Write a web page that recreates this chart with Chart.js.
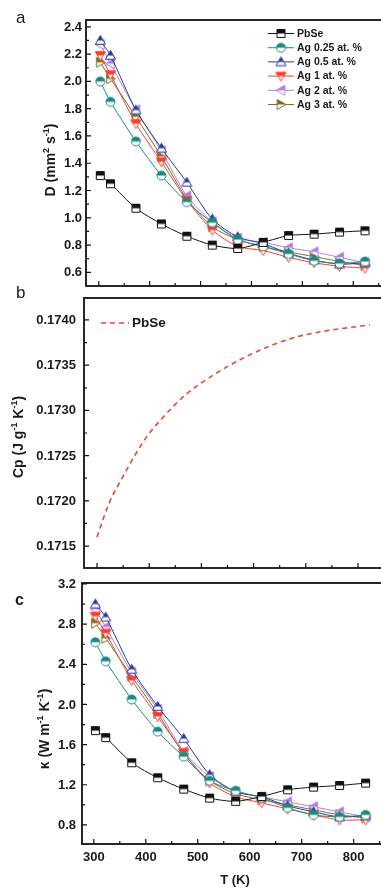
<!DOCTYPE html>
<html>
<head>
<meta charset="utf-8">
<script src="https://cdn.jsdelivr.net/npm/chart.js@4.4.1/dist/chart.umd.min.js"></script>
<style>
  html, body { margin: 0; padding: 0; background: #fff; overflow: hidden; }
  body { width: 381px; height: 888px; position: relative; }
  canvas { position: absolute; left: 0; }
</style>
</head>
<body>
<canvas id="chartA" width="400" height="310" style="top:0px"></canvas>
<canvas id="chartB" width="400" height="320" style="top:270px"></canvas>
<canvas id="chartC" width="400" height="333" style="top:555px"></canvas>
<script>
// temperatures (K)
const temps = [303, 323, 373, 423, 473, 523, 573, 623, 673, 723, 773, 823];
const seriesNames = ['PbSe', 'Ag 0.25 at. %', 'Ag 0.5 at. %', 'Ag 1 at. %', 'Ag 2 at. %', 'Ag 3 at. %'];

// (a) thermal diffusivity D (mm2/s)
const dPbSe = [1.31, 1.25, 1.07, 0.955, 0.865, 0.80, 0.775, 0.82, 0.87, 0.88, 0.895, 0.905];
const dAg025 = [2.00, 1.85, 1.56, 1.31, 1.115, 0.965, 0.84, 0.79, 0.735, 0.685, 0.665, 0.68];
const dAg05 = [2.30, 2.19, 1.79, 1.51, 1.26, 0.99, 0.86, 0.81, 0.74, 0.69, 0.66, 0.67];
const dAg1 = [2.19, 2.05, 1.69, 1.41, 1.13, 0.91, 0.79, 0.76, 0.71, 0.67, 0.645, 0.63];
const dAg2 = [2.27, 2.13, 1.79, 1.49, 1.16, 0.97, 0.85, 0.82, 0.78, 0.75, 0.71, 0.67];
const dAg3 = [2.14, 2.02, 1.74, 1.45, 1.14, 0.935, 0.84, 0.79, 0.75, 0.715, 0.68, 0.65];

// (b) heat capacity Cp of PbSe
const cpTemps = [300, 323, 348, 373, 398, 423, 448, 473, 523, 573, 623, 673, 723, 773, 823];
const cpPbSe = [0.17160, 0.171972, 0.172249, 0.172507, 0.17273, 0.17290, 0.173055, 0.173189,
                0.173391, 0.173557, 0.173693, 0.173797, 0.173864, 0.173908, 0.173945];

// (c) thermal conductivity kappa (W/m/K)
const kPbSe = [1.74, 1.67, 1.42, 1.27, 1.157, 1.067, 1.035, 1.083, 1.15, 1.177, 1.193, 1.217];
const kAg025 = [2.62, 2.43, 2.05, 1.73, 1.48, 1.24, 1.14, 1.07, 0.97, 0.90, 0.88, 0.90];
const kAg05 = [3.00, 2.87, 2.35, 1.98, 1.66, 1.30, 1.13, 1.08, 0.99, 0.93, 0.88, 0.89];
const kAg1 = [2.88, 2.71, 2.24, 1.88, 1.52, 1.22, 1.08, 1.02, 0.96, 0.90, 0.85, 0.85];
const kAg2 = [2.95, 2.77, 2.32, 1.95, 1.53, 1.28, 1.13, 1.08, 1.03, 0.98, 0.93, 0.88];
const kAg3 = [2.81, 2.66, 2.28, 1.91, 1.51, 1.24, 1.11, 1.05, 1.00, 0.95, 0.90, 0.87];

// tick labels
const dTicks = [0.6, 0.8, 1.0, 1.2, 1.4, 1.6, 1.8, 2.0, 2.2, 2.4];
const cpTicks = [0.1715, 0.1720, 0.1725, 0.1730, 0.1735, 0.1740];
const kTicks = [0.8, 1.2, 1.6, 2.0, 2.4, 2.8, 3.2];
const tTicks = [300, 400, 500, 600, 700, 800];

const FONT = '"Liberation Sans", Arial, sans-serif';
const INK = '#1a1a1a';
const colors = ['#111111', '#1a8a80', '#2a3a9a', '#ff3b2a', '#b07ee0', '#7a7020'];
const shapes = ['square', 'circle', 'up', 'down', 'left', 'right'];

// half filled marker images (top half coloured)
function marker(shape, color) {
  const s = 13, m = s / 2, r = 5;
  const c = document.createElement('canvas');
  c.width = s; c.height = s;
  const g = c.getContext('2d');
  g.beginPath();
  if (shape === 'square') g.rect(m - 4, m - 4, 8, 8);
  else if (shape === 'circle') g.arc(m, m, 4.5, 0, Math.PI * 2);
  else if (shape === 'up') { g.moveTo(m, m - r); g.lineTo(m + r, m + r * 0.75); g.lineTo(m - r, m + r * 0.75); }
  else if (shape === 'down') { g.moveTo(m, m + r); g.lineTo(m + r, m - r * 0.75); g.lineTo(m - r, m - r * 0.75); }
  else if (shape === 'left') { g.moveTo(m - r, m); g.lineTo(m + r * 0.75, m - r); g.lineTo(m + r * 0.75, m + r); }
  else { g.moveTo(m + r, m); g.lineTo(m - r * 0.75, m - r); g.lineTo(m - r * 0.75, m + r); }
  g.closePath();
  g.fillStyle = '#fff';
  g.fill();
  g.save();
  g.clip();
  g.fillStyle = color;
  g.fillRect(0, 0, s, m);
  g.restore();
  g.lineWidth = 1;
  g.strokeStyle = color;
  g.stroke();
  return c;
}
const markers = shapes.map((sh, i) => marker(sh, colors[i]));

function pts(xs, ys) { return xs.map((x, i) => ({x: x, y: ys[i]})); }

function seriesSets(list) {
  return list.map((vals, i) => ({
    label: seriesNames[i],
    data: pts(temps, vals),
    borderColor: colors[i],
    borderWidth: 1,
    pointStyle: markers[i],
    tension: 0.25,
    fill: false
  }));
}

// frame, inward ticks and y tick labels
const frame = {
  id: 'frame',
  beforeDatasetsDraw(chart, args, opts) {
    const {ctx, chartArea: a} = chart;
    const x = chart.scales.x, y = chart.scales.y;
    ctx.save();
    ctx.strokeStyle = '#111';
    ctx.lineWidth = 1.8;
    ctx.strokeRect(a.left, a.top, a.right - a.left + 20, a.bottom - a.top);
    ctx.lineWidth = 1.2;
    ctx.beginPath();
    for (let t = 250; t <= 900; t += 50) {
      if (t <= x.min || t >= x.max) continue;
      const px = x.getPixelForValue(t);
      const len = t % 100 === 0 ? 5 : 3;
      ctx.moveTo(px, a.bottom);
      ctx.lineTo(px, a.bottom - len);
    }
    const yt = opts.ticks;
    const step = yt[1] - yt[0];
    for (let k = -1; k < yt.length; k++) {
      const base = k < 0 ? yt[0] - step : yt[k];
      [base, base + step / 2].forEach((v, j) => {
        if (v <= y.min || v >= y.max) return;
        const py = y.getPixelForValue(v);
        if (py < a.top + 1 || py > a.bottom - 1) return;
        ctx.moveTo(a.left, py);
        ctx.lineTo(a.left + (j === 0 ? 5 : 3), py);
      });
    }
    ctx.stroke();
    ctx.fillStyle = INK;
    ctx.font = 'bold 13px ' + FONT;
    ctx.textAlign = 'right';
    ctx.textBaseline = 'middle';
    yt.forEach(v => {
      ctx.fillText(v.toFixed(opts.digits), a.left - opts.pad, y.getPixelForValue(v) + 0.5);
    });
    ctx.restore();
  }
};

// rotated axis title with superscripts
function rotatedTitle(ctx, parts, bx, cy) {
  ctx.save();
  ctx.translate(bx, cy);
  ctx.rotate(-Math.PI / 2);
  ctx.fillStyle = INK;
  ctx.textBaseline = 'alphabetic';
  const fontOf = p => 'bold ' + (p.sup ? 9 : 14) + 'px ' + FONT;
  let total = 0;
  parts.forEach(p => { ctx.font = fontOf(p); total += ctx.measureText(p.t).width; });
  let cx = -total / 2;
  parts.forEach(p => {
    ctx.font = fontOf(p);
    ctx.fillText(p.t, cx, p.sup ? -6 : 0);
    cx += ctx.measureText(p.t).width;
  });
  ctx.restore();
}

function yScale(min, max, left) {
  return {
    type: 'linear', min: min, max: max,
    afterFit: s => { s.width = left; },
    grid: {display: false, drawTicks: false},
    border: {display: false},
    ticks: {display: false}
  };
}

const common = {
  responsive: false,
  animation: false,
  events: [],
  devicePixelRatio: 1
};

// panel a
new Chart(document.getElementById('chartA'), {
  type: 'line',
  data: {datasets: seriesSets([dPbSe, dAg025, dAg05, dAg1, dAg2, dAg3])},
  options: Object.assign({}, common, {
    layout: {padding: {top: 20, bottom: 24, left: 0, right: 0}},
    scales: {
      x: {type: 'linear', display: false, min: 274.9, max: 882},
      y: yScale(0.5, 2.45, 86)
    },
    plugins: {legend: {display: false}, tooltip: {enabled: false},
              frame: {ticks: dTicks, digits: 1, pad: 4}}
  }),
  plugins: [frame, {
    id: 'textA',
    afterDraw(chart) {
      const ctx = chart.ctx;
      ctx.save();
      ctx.fillStyle = INK;
      ctx.font = '17px ' + FONT;
      ctx.fillText('a', 16, 23);
      // legend
      ctx.font = 'bold 10.5px ' + FONT;
      ctx.textBaseline = 'middle';
      seriesNames.forEach((name, i) => {
        const yy = 33.5 + i * 14.2;
        ctx.strokeStyle = colors[i];
        ctx.lineWidth = 1;
        ctx.beginPath();
        ctx.moveTo(268, yy);
        ctx.lineTo(294, yy);
        ctx.stroke();
        ctx.drawImage(markers[i], 281 - 6.5, yy - 6.5);
        ctx.fillStyle = INK;
        ctx.fillText(name, 297, yy + 0.5);
      });
      ctx.restore();
      rotatedTitle(ctx, [{t: 'D (mm'}, {t: '2', sup: true}, {t: ' s'}, {t: '-1', sup: true}, {t: ')'}], 55, 160);
    }
  }]
});

// panel b
new Chart(document.getElementById('chartB'), {
  type: 'line',
  data: {datasets: [{
    label: 'PbSe',
    data: pts(cpTemps, cpPbSe),
    borderColor: '#ee4433',
    borderWidth: 1.6,
    borderDash: [5, 4],
    pointRadius: 0,
    cubicInterpolationMode: 'monotone',
    fill: false
  }]},
  options: Object.assign({}, common, {
    layout: {padding: {top: 28, bottom: 22, left: 0, right: 0}},
    scales: {
      x: {type: 'linear', display: false, min: 275.1, max: 880.5},
      y: yScale(0.171257, 0.174243, 84)
    },
    plugins: {legend: {display: false}, tooltip: {enabled: false},
              frame: {ticks: cpTicks, digits: 4, pad: 8}}
  }),
  plugins: [frame, {
    id: 'textB',
    afterDraw(chart) {
      const ctx = chart.ctx;
      const top = 270;
      ctx.save();
      ctx.fillStyle = INK;
      ctx.font = '17px ' + FONT;
      ctx.fillText('b', 16, 298 - top);
      ctx.strokeStyle = '#ee4433';
      ctx.lineWidth = 1.6;
      ctx.setLineDash([5, 4]);
      ctx.beginPath();
      ctx.moveTo(101, 323 - top);
      ctx.lineTo(129, 323 - top);
      ctx.stroke();
      ctx.font = 'bold 13.5px ' + FONT;
      ctx.textBaseline = 'middle';
      ctx.fillText('PbSe', 132, 323.5 - top);
      ctx.restore();
      rotatedTitle(ctx, [{t: 'Cp (J g'}, {t: '-1', sup: true}, {t: ' K'}, {t: '-1', sup: true}, {t: ')'}], 23, 437 - top);
    }
  }]
});

// panel c
new Chart(document.getElementById('chartC'), {
  type: 'line',
  data: {datasets: seriesSets([kPbSe, kAg025, kAg05, kAg1, kAg2, kAg3])},
  options: Object.assign({}, common, {
    layout: {padding: {top: 28, bottom: 0, left: 0, right: 0}},
    scales: {
      x: {
        type: 'linear', min: 277.3, max: 879.6,
        afterFit: s => { s.height = 44; },
        afterBuildTicks: s => { s.ticks = tTicks.map(v => ({value: v})); },
        grid: {display: false, drawTicks: false},
        border: {display: false},
        ticks: {padding: 6, autoSkip: false, maxRotation: 0, color: INK,
                font: {family: FONT, size: 13, weight: 'bold'}, callback: v => String(v)}
      },
      y: yScale(0.61, 3.21, 82)
    },
    plugins: {legend: {display: false}, tooltip: {enabled: false},
              frame: {ticks: kTicks, digits: 1, pad: 6}}
  }),
  plugins: [frame, {
    id: 'textC',
    afterDraw(chart) {
      const ctx = chart.ctx;
      const top = 555;
      ctx.save();
      ctx.fillStyle = INK;
      ctx.font = 'bold 16px ' + FONT;
      ctx.fillText('c', 15, 605 - top);
      ctx.font = 'bold 13px ' + FONT;
      ctx.textAlign = 'center';
      ctx.fillText('T (K)', 235, 884 - top);
      ctx.restore();
      rotatedTitle(ctx, [{t: '\u03ba (W m'}, {t: '-1', sup: true}, {t: ' K'}, {t: '-1', sup: true}, {t: ')'}], 49, 729 - top);
    }
  }]
});
</script>
</body>
</html>
